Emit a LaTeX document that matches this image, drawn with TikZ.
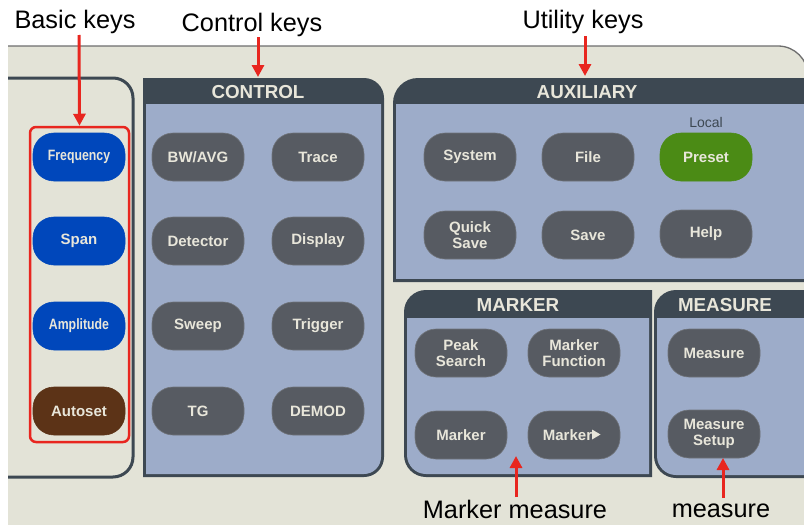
\documentclass[tikz,border=0pt]{standalone}
\usepackage{fontspec}
\setmainfont{Liberation Sans}
\usetikzlibrary{arrows.meta}
\definecolor{bgpanel}{HTML}{E3E3D7}
\definecolor{darkhead}{HTML}{3D4852}
\definecolor{panelblue}{HTML}{9DACC9}
\definecolor{btngray}{HTML}{575B62}
\definecolor{btntext}{HTML}{E8E6DA}
\definecolor{btnblue}{HTML}{0047BB}
\definecolor{btnbrown}{HTML}{5C3317}
\definecolor{btngreen}{HTML}{4B8B15}
\definecolor{annred}{HTML}{E8261F}
\definecolor{edgegray}{HTML}{6E6E6E}
\tikzset{
  keybtn/.style={rounded corners=21pt, minimum width=92pt, minimum height=48pt,
    inner sep=0pt, fill=btngray, draw=btngray!85!white, line width=0.6pt,
    text=btntext, font=\fontsize{15}{15.5}\selectfont\bfseries, align=center},
  bluebtn/.style={keybtn, fill=btnblue, draw=btnblue},
  brownbtn/.style={keybtn, fill=btnbrown, draw=btnbrown},
  greenbtn/.style={keybtn, fill=btngreen, draw=btngreen},
  headtext/.style={text=btntext, font=\fontsize{18.8}{20}\selectfont\bfseries, inner sep=0pt},
  anntext/.style={font=\fontsize{25.3}{27}\selectfont, text=black, inner sep=0pt},
  annarrow/.style={draw=annred, line width=3pt, -{Triangle[width=12pt,length=12pt]}},
}
\newcommand{\narrowtxt}[1]{\scalebox{0.82}[1]{#1}}
\begin{document}
\begin{tikzpicture}[x=1pt,y=-1pt]
\useasboundingbox (0,0) rectangle (804,525);
\fill[white] (0,0) rectangle (804,525);
% outer panel
\fill[bgpanel] (8,525) -- (8,46) -- (778,46) arc[start angle=-90,end angle=0,radius=30] -- (808,525) -- cycle;
\draw[edgegray, line width=1.3pt] (8,46) -- (778,46) arc[start angle=-90,end angle=0,radius=30];
% left (basic) panel outline
\draw[darkhead, line width=3pt] (8,78) -- (113,78) arc[start angle=-90,end angle=0,radius=20]
  -- (133,457) arc[start angle=0,end angle=90,radius=20] -- (8,477);
% CONTROL panel
\fill[darkhead] (143,477) -- (143,78) -- (364,78) arc[start angle=-90,end angle=0,radius=20]
  -- (384,457) arc[start angle=0,end angle=90,radius=20] -- cycle;
\fill[panelblue] (146,104) -- (381,104) -- (381,457) arc[start angle=0,end angle=90,radius=17]
  -- (146,474) -- cycle;
% AUXILIARY panel
\fill[darkhead] (393,282) -- (393,103) arc[start angle=180,end angle=270,radius=25]
  -- (812,78) -- (812,282) -- cycle;
\fill[panelblue] (396,104) rectangle (812,279);
% MARKER panel
\fill[darkhead] (652,290) -- (426,290) arc[start angle=270,end angle=180,radius=22]
  -- (404,455) arc[start angle=180,end angle=90,radius=22] -- (652,477) -- cycle;
\fill[panelblue] (407,318) -- (649,318) -- (649,474) -- (426,474)
  arc[start angle=90,end angle=180,radius=19] -- cycle;
% MEASURE panel
\fill[darkhead] (812,290) -- (676,290) arc[start angle=270,end angle=180,radius=22]
  -- (654,456) arc[start angle=180,end angle=90,radius=22] -- (812,478) -- cycle;
\fill[panelblue] (657,318) -- (812,318) -- (812,475) -- (676,475)
  arc[start angle=90,end angle=180,radius=19] -- cycle;
% headers
\node[headtext] (hcontrol) at (258,92) {CONTROL};
\node[headtext] (haux) at (587,92) {AUXILIARY};
\node[headtext] (hmarker) at (518,305) {MARKER};
\node[headtext] (hmeasure) at (725,305) {MEASURE};
% basic keys
\node[bluebtn] (freq) at (79,157) {\narrowtxt{Frequency}};
\node[bluebtn] (span) at (79,241) {Span};
\node[bluebtn] (ampl) at (79,326) {\narrowtxt{Amplitude}};
\node[brownbtn] (autoset) at (79,411) {Autoset};
\node[draw=annred, line width=2.5pt, rounded corners=6pt, minimum width=99pt, minimum height=315pt, inner sep=0pt] (redbox) at (79.5,284.5) {};
% control keys
\node[keybtn] (bwavg) at (198,157) {BW/AVG};
\node[keybtn] (trace) at (318,157) {Trace};
\node[keybtn] (detector) at (198,241) {Detector};
\node[keybtn] (display) at (318,241) {Display};
\node[keybtn] (sweep) at (198,326) {Sweep};
\node[keybtn] (trigger) at (318,326) {Trigger};
\node[keybtn] (tg) at (198,411) {TG};
\node[keybtn] (demod) at (318,411) {DEMOD};
% auxiliary keys
\node[keybtn] (system) at (470,157) {System};
\node[keybtn] (file) at (588,157) {File};
\node[greenbtn] (preset) at (706,157) {Preset};
\node[text=darkhead, font=\fontsize{14}{16}\selectfont, inner sep=0pt] (local) at (706,122) {Local};
\node[keybtn] (qsave) at (470,235) {Quick\\Save};
\node[keybtn] (save) at (588,235) {Save};
\node[keybtn] (help) at (706,234) {Help};
% marker keys
\node[keybtn] (peak) at (461,353) {Peak\\Search};
\node[keybtn] (mfunc) at (574,353) {Marker\\Function};
\node[keybtn] (marker) at (461,435) {Marker};
\node[keybtn] (markerto) at (574,435) {Marker\hspace{13pt}};
\fill[btntext, shift={(markerto.center)}] (18,-5.5) -- (18,4.5) -- (26.5,-0.5) -- cycle;
% measure keys
\node[keybtn] (measure) at (714,353) {Measure};
\node[keybtn] (msetup) at (714,434) {Measure\\Setup};
% annotations
\node[anntext] (abasic) at (75,22) {Basic keys};
\node[anntext] (acontrol) at (252,25) {Control keys};
\node[anntext] (autil) at (583,22) {Utility keys};
\node[anntext] (amarker) at (515,509) {Marker measure};
\node[anntext] (ameasure) at (721,511) {measure};
\coordinate (sbasic) at (79,35);
\coordinate (sctl) at (258,37);
\coordinate (sutil) at (585,36);
\coordinate (smk) at (516,497);
\coordinate (sms) at (723,498);
\coordinate (cctl) at (258,77);
\coordinate (cutil) at (585,76);
\coordinate (cmk) at (516,456);
\coordinate (cms) at (723,458);
\draw[annarrow] (sbasic) -- (redbox.north);
\draw[annarrow] (sctl) -- (cctl);
\draw[annarrow] (sutil) -- (cutil);
\draw[annarrow] (smk) -- (cmk);
\draw[annarrow] (sms) -- (cms);
\end{tikzpicture}
\end{document}
